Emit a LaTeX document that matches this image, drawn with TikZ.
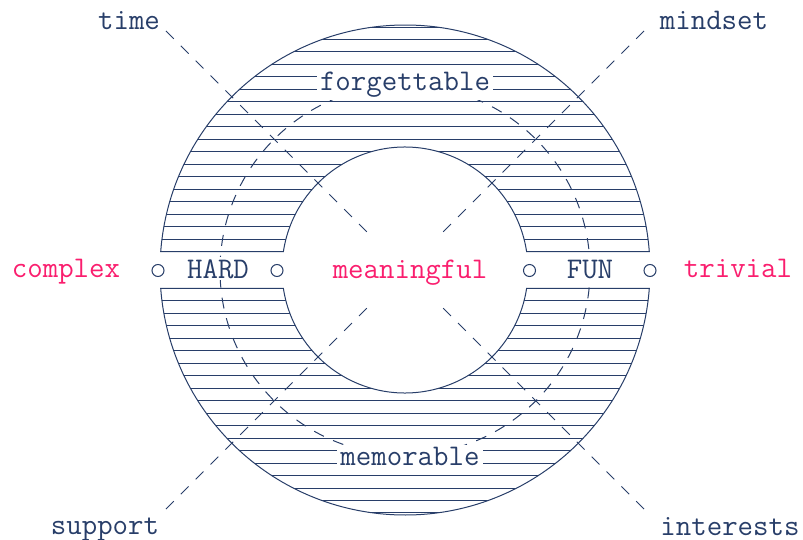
\documentclass[tikz,border=0pt]{standalone}
\usepackage{tikz}
\usetikzlibrary{calc}
\definecolor{cink}{RGB}{40,62,105}
\definecolor{cpink}{RGB}{250,30,110}
% the two hatched halves of the ring, cut apart at the HARD / FUN row
\newcommand{\ringhalves}{%
  (ctr) ++(4.33:122.5pt) arc[start angle=4.33,end angle=175.67,radius=122.5pt]
  -- ($(ctr)+(171.35:61.5pt)$) arc[start angle=171.35,end angle=8.65,radius=61.5pt] -- cycle
  (ctr) ++(-4.33:122.5pt) arc[start angle=-4.33,end angle=-175.67,radius=122.5pt]
  -- ($(ctr)+(-171.35:61.5pt)$) arc[start angle=-171.35,end angle=-8.65,radius=61.5pt] -- cycle}

\begin{document}
\begin{tikzpicture}[
  x=0.5pt,y=-0.5pt,
  font=\fontsize{15}{17}\selectfont\ttfamily,
  line width=0.5pt,
  lbl/.style={text=cink,anchor=base,inner sep=0},
  hot/.style={text=cpink,anchor=base,inner sep=0},
  cut/.style={text=cink,anchor=base,fill=white,inner xsep=1.5pt,inner ysep=1pt},
  port/.style={circle,draw=cink,minimum size=6pt,inner sep=0},
  hatch/.style={draw=cink},
  guide/.style={draw=cink,dash pattern=on 5.5pt off 5pt},
]
\useasboundingbox (0,0) rectangle (803,540);
\coordinate (ctr) at (405,270);
\begin{scope}
  \clip \ringhalves;
  \foreach \k in {0,...,18}{
    \draw[hatch] (150,251.5-12.47*\k) -- (660,251.5-12.47*\k);
    \draw[hatch] (150,288.5+12.47*\k) -- (660,288.5+12.47*\k);
  }
\end{scope}
\draw[cink] \ringhalves;
\draw[guide] (ctr) circle[radius=92.5pt];
% --- the four dashed spokes, stopping short of the centre ---
\foreach \a/\n in {135/tl,45/tr,225/bl,315/br}{
  \coordinate (\n-out) at ($(ctr)+(\a:169pt)$);
  \coordinate (\n-in) at ($(ctr)+(\a:26pt)$);
}
\draw[guide] (tl-out) -- (tl-in);
\draw[guide] (tr-out) -- (tr-in);
\draw[guide] (bl-out) -- (bl-in);
\draw[guide] (br-out) -- (br-in);
% --- labels ---
\node[cut] (forget) at (405,91) {forgettable};
\node[cut] (memo) at (410,465) {memorable};
\node[lbl] (time) at (129,30) {time};
\node[lbl] (mindset) at (714,30) {mindset};
\node[lbl] (support) at (105,534) {support};
\node[lbl] (interests) at (730,535) {interests};
\node[hot] (complex) at (66,277) {complex};
\node[hot] (trivial) at (738,277) {trivial};
\node[hot] (mean) at (410,278) {meaningful};
\node[cut] (hard) at (218,278) {HARD};
\node[cut] (fun) at (590,278) {FUN};
\node[port] (hardL) at (158,270.5) {};
\node[port] (hardR) at (277,270.5) {};
\node[port] (funL) at (529.5,270.5) {};
\node[port] (funR) at (650,270.5) {};
\end{tikzpicture}
\end{document}
